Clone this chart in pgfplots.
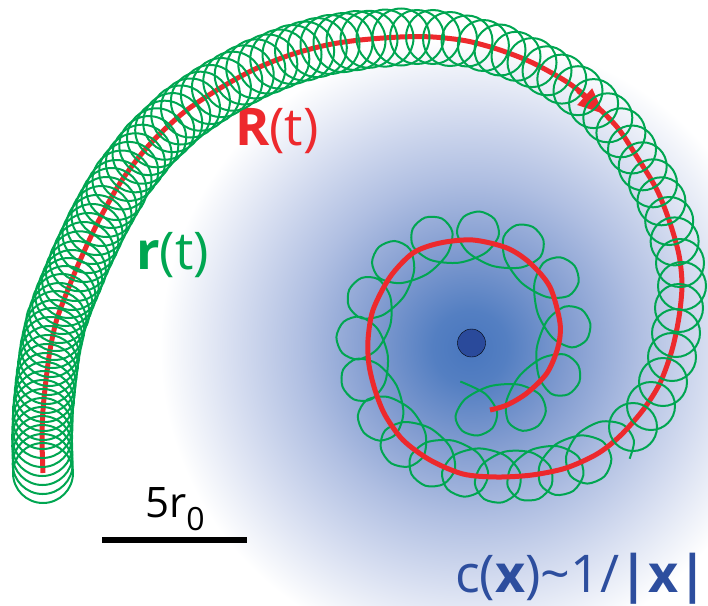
\documentclass[border=0pt]{standalone}
\usepackage{fontspec}
\setmainfont{Open Sans}
\usepackage{pgfplots}
\usepackage{pgfplotstable}
\pgfplotsset{compat=1.18}
\usetikzlibrary{arrows.meta}
\definecolor{gcol}{RGB}{0,166,81}
\definecolor{rcol}{RGB}{237,41,45}
\definecolor{tblue}{RGB}{45,78,158}
\definecolor{dblue}{RGB}{42,74,155}
\definecolor{g0}{RGB}{72,118,190}
\definecolor{g1}{RGB}{84,127,194}
\definecolor{g2}{RGB}{130,156,208}
\definecolor{g3}{RGB}{176,191,226}
\definecolor{g4}{RGB}{216,223,241}
\definecolor{g5}{RGB}{250,251,253}
\pgfdeclareradialshading{cgrad}{\pgfpoint{0bp}{0bp}}{color(0bp)=(g0); color(3bp)=(g1); color(8bp)=(g2); color(13.7bp)=(g3); color(19.4bp)=(g4); color(24.3bp)=(g5); color(25bp)=(white); color(50bp)=(white)}

% guiding centre R(t), pixel coordinates (y downwards)
\pgfplotstableread{
x y
43 473
42 440
43 410
46 380
50 350
56 322
65 297
78 265
98 222
122 180
150 144
183 113
217 90
253 70
290 55
327 45
360 40
400 37
433 37
467 41
500 50
533 63
567 82
590 100
617 127
637 157
657 190
670 223
679 255
682 285
679 317
672 350
660 383
643 410
620 436
597 454
566 468
532 475
497 477
463 474
430 460
403 440
385 415
375 390
369 365
368 340
373 310
390 277
413 253
440 243
473 240
507 248
530 263
550 287
560 323
558 347
547 373
527 393
507 405
490 410
}\guiding

% outer gyration loops of r(t): centres (radius given per group below)
\pgfplotstableread{
x y
43 473
42.7 464
42.5 455
42.2 446
42.1 437
42.4 428
42.7 419
43 410
43.9 401
44.8 392
45.7 383
46.8 374
48 365
49.2 356
50.6 347
52.5 338
54.3 330
56.3 321
59.3 313
62.3 304
65.4 296
68.7 288
72.1 280
75.8 271
79.7 261.3
84 252
88.3 243
92.5 234
96.7 225
101.5 216
106.5 207
111.5 198
116.5 190
122 180
128.7 171.4
135.4 162.8
142.1 154.2
148.8 145.6
156.6 137.8
164.7 130.2
172.7 122.6
180.8 115
190.5 108
200.4 101.2
210.4 94.5
221.4 87.6
232.8 81.2
244.2 74.9
255.8 68.9
267.8 64
279.8 59.1
292 54.5
304.6 51.1
317.3 47.6
330 44.5
343 42.6
356 40.6
369 39.3
385 38.1
401 37
417 37
433 37
450 39
467 41
483.4 45.5
500 50
516 56.3
532 62.6
547 70.8
561.8 79.1
578 90.7
593.6 103.6
607.8 117.8
620.9 132.8
632 149.5
642.7 166.3
653 183.3
661.4 201.3
669.2 221
674.6 241.4
680 263
682 286
679 308
676 333
672 357
663 382
651 406
633 427
}\loops

% inner part of r(t): looping path
\pgfplotstableread{
x y
629.6 458.7
633.9 440.4
622.9 424.6
600.5 421.7
577.8 434.2
566.2 456.1
570.6 476.0
587.3 483.6
604.5 476.3
611.4 458.9
603.0 441.7
580.9 435.4
555.9 444.3
540.0 464.0
540.5 484.5
555.4 494.9
573.4 490.8
583.4 474.9
578.1 456.5
557.4 446.2
531.0 450.0
511.4 466.4
507.8 486.5
520.2 499.4
538.8 498.8
551.6 485.2
550.0 466.3
531.8 452.6
505.0 451.6
482.4 464.3
474.8 483.4
484.1 499.0
502.3 502.4
517.7 491.9
520.1 473.0
505.2 455.5
479.1 448.4
454.1 455.2
442.1 472.1
447.4 489.1
464.3 496.7
481.4 490.2
488.2 472.9
477.8 453.0
453.5 440.7
427.0 442.2
410.8 456.0
411.5 474.2
425.6 485.8
443.7 484.0
455.0 469.0
450.1 446.8
430.2 428.2
404.4 422.0
384.9 430.7
380.8 448.2
391.0 463.2
409.1 466.6
423.9 455.4
425.3 432.9
411.3 409.8
388.0 397.0
366.9 399.9
357.8 415.7
363.9 432.7
379.5 440.6
396.1 434.0
403.4 412.6
396.4 385.2
377.9 364.2
356.9 358.8
343.1 369.6
342.5 386.7
353.9 399.4
371.1 399.4
385.0 382.4
387.7 355.0
377.9 329.3
360.2 316.8
343.7 321.7
336.4 337.1
342.4 353.1
358.5 359.4
377.6 348.8
390.4 324.5
390.4 297.3
378.6 279.4
361.6 277.9
349.2 289.7
348.9 306.6
361.5 318.2
383.1 314.9
403.9 296.5
414.1 270.6
409.9 249.1
394.7 241.0
378.8 247.1
372.0 262.5
379.4 278.0
400.8 283.1
427.5 273.8
447.5 253.7
452.4 232.1
442.0 218.6
425.0 217.6
412.6 229.0
413.0 246.3
430.6 260.0
458.9 262.7
485.3 253.0
498.7 235.6
494.5 219.0
479.5 211.5
463.5 216.9
457.0 232.7
467.7 252.1
492.5 265.9
520.9 267.5
540.3 256.9
543.4 240.0
532.8 226.9
516.1 225.2
503.6 237.1
505.2 259.5
521.9 283.1
546.8 297.0
568.7 295.8
578.6 282.1
574.6 265.8
560.1 257.3
543.5 262.8
534.3 284.2
537.8 313.5
552.7 337.9
572.0 347.4
586.6 339.9
590.3 323.7
581.6 309.5
564.5 306.7
546.8 321.2
536.7 348.5
538.9 376.7
551.7 394.0
568.3 394.3
579.4 381.9
578.3 365.4
564.7 354.5
541.9 358.1
519.3 376.1
506.4 401.2
508.5 422.2
522.5 430.8
538.1 425.9
545.8 411.2
539.9 394.7
518.6 384.6
489.9 386.2
465.5 398.8
455.5 416.4
462.2 430.8
477.8 435.5
492.5 428.0
497.0 411.7
485.0 393.6
460.3 381.5
}\inner

\pgfplotsset{loopring/.style={only marks, mark=o, mark size=#1,
  mark options={draw=gcol, fill=none, line width=2pt}}}

\begin{document}
\begin{tikzpicture}
\begin{axis}[
  x=1pt, y=1pt,
  xmin=0, xmax=708, ymin=0, ymax=605,
  y dir=reverse,
  hide axis, clip=false,
]
\coordinate (bl) at (rel axis cs:0,0);
\coordinate (tr) at (rel axis cs:1,1);
\shade[shading=cgrad] (axis cs:470,348) circle[radius=310pt];

% r(t): outer gyration loops, grouped by radius
\addplot[loopring=30, restrict expr to domain={\coordindex}{0:32}] table[x=x, y=y] {\loops};
\addplot[loopring=29.5, restrict expr to domain={\coordindex}{33:56}] table[x=x, y=y] {\loops};
\addplot[loopring=28.5, restrict expr to domain={\coordindex}{57:59}] table[x=x, y=y] {\loops};
\addplot[loopring=27, restrict expr to domain={\coordindex}{60:62}] table[x=x, y=y] {\loops};
\addplot[loopring=25.5, restrict expr to domain={\coordindex}{63:65}] table[x=x, y=y] {\loops};
\addplot[loopring=24.5, restrict expr to domain={\coordindex}{66:73}] table[x=x, y=y] {\loops};
\addplot[loopring=24, restrict expr to domain={\coordindex}{74:87}] table[x=x, y=y] {\loops};
% r(t): inner looping path
\addplot[gcol, line width=2pt, smooth, no marks] table[x=x, y=y] {\inner};

% R(t): guiding centre
\addplot[rcol, line width=5pt, smooth, tension=0.5, no marks] table[x=x, y=y] {\guiding};
\addplot[rcol, line width=5pt, no marks, -{Triangle[length=26pt, width=21pt]}]
  coordinates {(578,90.7) (604,114)};

% point source
\addplot[only marks, mark=*, mark size=14, mark options={fill=dblue, draw=none}]
  coordinates {(471.5,343)};

% scale bar
\addplot[black, line width=6pt, no marks] coordinates {(102,540) (247,540)};

\node[anchor=base west, inner sep=0, text=rcol, font=\fontsize{52}{56}\selectfont]
  at (axis cs:235,145) {\textbf{R}(t)};
\node[anchor=base west, inner sep=0, text=gcol, font=\fontsize{52}{56}\selectfont]
  at (axis cs:136,269) {\textbf{r}(t)};
\node[anchor=base west, inner sep=0, text=black, font=\fontsize{42}{46}\selectfont]
  at (axis cs:145,517) {5r\raisebox{-13pt}{\fontsize{32}{34}\selectfont 0}};
\node[anchor=base west, inner sep=0, text=tblue, font=\fontsize{52}{56}\selectfont]
  at (axis cs:455,592) {c(\textbf{x})\textasciitilde 1/\textbf{|x|}};
\end{axis}
\pgfresetboundingbox
\path (bl) rectangle (tr);
\end{tikzpicture}
\end{document}
